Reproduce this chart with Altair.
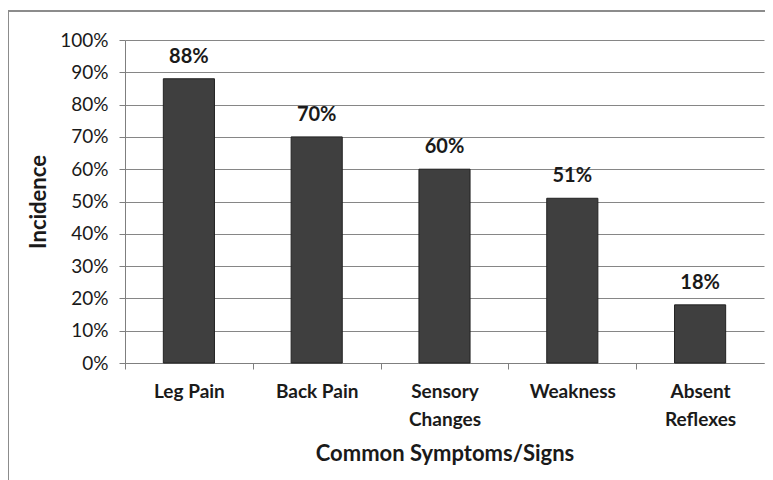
import altair as alt
import pandas as pd

categories = ["Leg Pain", "Back Pain", "Sensory\nChanges", "Weakness", "Absent\nReflexes"]
incidence = [0.88, 0.70, 0.60, 0.51, 0.18]
bar_labels = ["88%", "70%", "60%", "51%", "18%"]
y_ticks = [0, 0.1, 0.2, 0.3, 0.4, 0.5, 0.6, 0.7, 0.8, 0.9, 1.0]

df = pd.DataFrame({"cat": categories, "val": incidence, "lab": bar_labels})

FONT = "Lato"
PLOT_W = 639
HALF_STEP = PLOT_W / len(categories) / 2

x_enc = alt.X(
    "cat:N",
    sort=categories,
    scale=alt.Scale(paddingInner=0.6, paddingOuter=0.3),
    axis=alt.Axis(
        title="Common Symptoms/Signs",
        labelAngle=0,
        labelExpr="split(datum.label, '\\n')",
        labelFont=FONT,
        labelFontWeight="bold",
        labelFontSize=19,
        labelColor="#1a1a1a",
        labelLineHeight=28,
        labelPadding=13,
        labelBaseline="top",
        labelOffset=HALF_STEP,
        ticks=True,
        tickOffset=-HALF_STEP,
        tickColor="#7f7f7f",
        tickSize=6,
        tickWidth=1,
        domainColor="#7f7f7f",
        titleFont=FONT,
        titleFontSize=22,
        titleFontWeight="bold",
        titleColor="#1a1a1a",
        titlePadding=14,
    ),
)

y_enc = alt.Y(
    "val:Q",
    scale=alt.Scale(domain=[0, 1]),
    axis=alt.Axis(
        title="Incidence",
        format=".0%",
        values=y_ticks,
        labelFont=FONT,
        labelFontSize=19,
        labelColor="#1a1a1a",
        labelPadding=11,
        tickColor="#7f7f7f",
        tickSize=6,
        domainColor="#7f7f7f",
        gridColor="#868686",
        gridWidth=1,
        titleFont=FONT,
        titleFontSize=22,
        titleFontWeight="bold",
        titleColor="#1a1a1a",
        titleX=-87,
        titleBaseline="middle",
    ),
)

frame = alt.Chart(df).mark_rect(fill=None, stroke="#8c8c8c", strokeWidth=1.5).encode(
    x=alt.value(-117), x2=alt.value(700), y=alt.value(-29), y2=alt.value(500)
)

bars = alt.Chart(df).mark_bar(color="#3f3f3f", stroke="#222222", strokeWidth=1).encode(
    x=x_enc, y=y_enc
)

text = alt.Chart(df).mark_text(
    font=FONT, fontSize=20, fontWeight="bold", color="#1a1a1a", baseline="middle", dy=-22
).encode(x=x_enc, y=y_enc, text="lab:N")

chart = alt.layer(frame, bars, text).properties(
    width=PLOT_W,
    height=323,
    padding={"left": 117, "top": 32, "right": 1, "bottom": 125},
    autosize=alt.AutoSizeParams(type="none"),
    background="white",
).configure_view(stroke=None)

chart.save("out.html", embed_options={"renderer": "svg", "actions": False})
